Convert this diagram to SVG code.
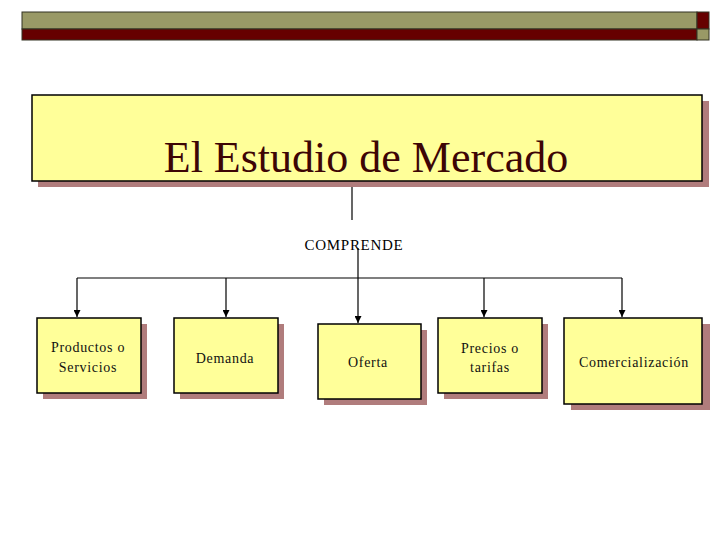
<svg xmlns="http://www.w3.org/2000/svg" width="728" height="546" viewBox="0 0 728 546">
<defs>
<style>
.olive{fill:#999966;stroke:#333322;stroke-width:1}
.maroon{fill:#660000;stroke:#333322;stroke-width:1}
.box{fill:#ffff99;stroke:#000;stroke-width:1.5}
.shadow{fill:#b07c7c}
.lbl{font-family:"Liberation Serif","Times New Roman",serif;font-size:14px;fill:#111;text-anchor:middle;letter-spacing:0.7px}
.title{font-family:"Liberation Serif","Times New Roman",serif;font-size:44px;fill:#3d0505;text-anchor:middle}
.conn{fill:none;stroke:#000;stroke-width:1.2}
</style>
<marker id="arr" viewBox="0 0 10 10" refX="10" refY="5" markerWidth="7" markerHeight="7" markerUnits="userSpaceOnUse" orient="auto">
<path d="M0,0 L10,5 L0,10 z" fill="#000"/>
</marker>
</defs>
<rect width="728" height="546" fill="#fff"/>
<g id="header">
<rect class="olive" x="22" y="12" width="675" height="17"/>
<rect class="maroon" x="697" y="12" width="12" height="17"/>
<rect class="maroon" x="22" y="29" width="675" height="11"/>
<rect class="olive" x="697" y="29" width="12" height="11"/>
</g>
<g id="connectors">
<line class="conn" x1="352" y1="181" x2="352" y2="220"/>
<line class="conn" x1="77" y1="278" x2="622" y2="278"/>
<line class="conn" x1="77" y1="278" x2="77" y2="317" marker-end="url(#arr)"/>
<line class="conn" x1="226" y1="278" x2="226" y2="317" marker-end="url(#arr)"/>
<line class="conn" x1="358" y1="248" x2="358" y2="323" marker-end="url(#arr)"/>
<line class="conn" x1="484" y1="278" x2="484" y2="317" marker-end="url(#arr)"/>
<line class="conn" x1="622" y1="278" x2="622" y2="317" marker-end="url(#arr)"/>
</g>
<g id="title">
<rect class="shadow" x="38" y="101" width="671" height="86"/>
<rect class="box" x="32" y="95" width="670" height="86"/>
<text class="title" x="366" y="172">El Estudio de Mercado</text>
</g>
<g id="comprende">
<text class="lbl" x="354" y="250" style="font-size:15px;fill:#000">COMPRENDE</text>
</g>
<g id="productos">
<rect class="shadow" x="43" y="324" width="104" height="75"/>
<rect class="box" x="37" y="318" width="104" height="75"/>
<text class="lbl" x="88" y="352">Productos o</text>
<text class="lbl" x="88" y="372">Servicios</text>
</g>
<g id="demanda">
<rect class="shadow" x="180" y="324" width="104" height="75"/>
<rect class="box" x="174" y="318" width="104" height="75"/>
<text class="lbl" x="225" y="363">Demanda</text>
</g>
<g id="oferta">
<rect class="shadow" x="324" y="330" width="103" height="75"/>
<rect class="box" x="318" y="324" width="103" height="75"/>
<text class="lbl" x="368" y="367">Oferta</text>
</g>
<g id="precios">
<rect class="shadow" x="444" y="324" width="104" height="75"/>
<rect class="box" x="438" y="318" width="104" height="75"/>
<text class="lbl" x="490" y="353">Precios o</text>
<text class="lbl" x="490" y="372">tarifas</text>
</g>
<g id="comercializacion">
<rect class="shadow" x="571" y="324" width="139" height="86"/>
<rect class="box" x="564" y="318" width="138" height="86"/>
<text class="lbl" x="634" y="367">Comercialización</text>
</g>
</svg>
